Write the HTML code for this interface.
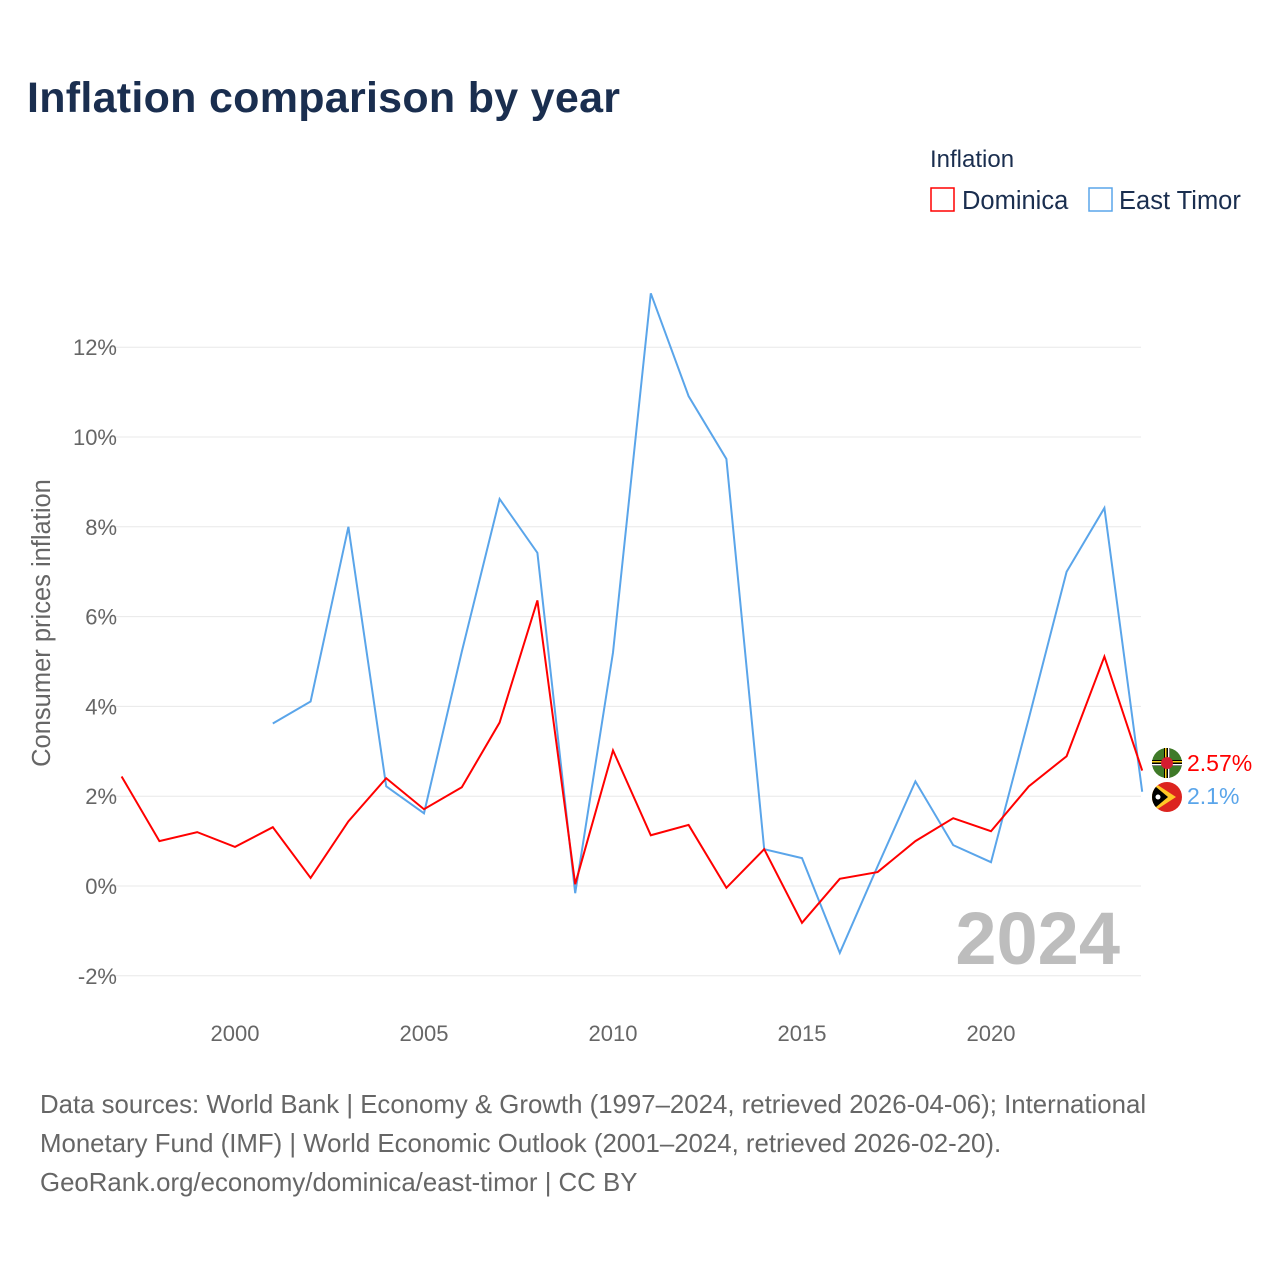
<!DOCTYPE html>
<html><head><meta charset="utf-8"><style>
body{margin:0;background:#fff;font-family:"Liberation Sans",sans-serif;}
svg text{font-family:"Liberation Sans",sans-serif;}
</style></head><body>
<svg id="c" width="1280" height="1280" xmlns="http://www.w3.org/2000/svg">
<rect width="1280" height="1280" fill="#fff"/>
<text x="27" y="112" font-size="43" font-weight="bold" fill="#1a2e4f" textLength="593">Inflation comparison by year</text>
<text x="930" y="167" font-size="24" fill="#1a2e4f">Inflation</text>
<g><rect x="931" y="188" width="23" height="23" fill="none" stroke="#f00" stroke-width="1.5"/><text x="962" y="209" font-size="25.5" fill="#1a2e4f">Dominica</text></g>
<g><rect x="1089" y="188" width="23" height="23" fill="none" stroke="#5aa5ea" stroke-width="1.5"/><text x="1119" y="209" font-size="25.5" fill="#1a2e4f">East Timor</text></g>
<text transform="translate(50,623) rotate(-90)" text-anchor="middle" font-size="25.5" fill="#666">Consumer prices inflation</text>
<g id="grid"></g><g id="xt"></g>
<text x="1120" y="964" text-anchor="end" font-size="74" font-weight="bold" fill="#bdbdbd">2024</text>
<g id="lines"></g>
<g>
<circle cx="1167" cy="763" r="15" fill="#3f7a28"/>
<rect x="1152" y="760" width="30" height="6" fill="#000"/><rect x="1164" y="748" width="6" height="30" fill="#000"/>
<rect x="1152" y="761" width="30" height="1.5" fill="#fcd116"/><rect x="1165" y="748" width="1.5" height="30" fill="#fcd116"/>
<rect x="1152" y="764" width="30" height="1.5" fill="#fff"/><rect x="1168" y="748" width="1.5" height="30" fill="#fff"/>
<circle cx="1167" cy="763" r="6" fill="#d41c30"/></g>
<g>
<clipPath id="cp"><circle cx="1167" cy="797" r="15"/></clipPath>
<g clip-path="url(#cp)"><rect x="1150" y="780" width="34" height="34" fill="#dc241f"/><polygon points="1150,780 1176,797 1150,814" fill="#ffc726"/><polygon points="1150,782 1168,797 1150,812" fill="#000"/><circle cx="1158" cy="797" r="2.5" fill="#fff"/></g></g>
<text x="1187" y="771" font-size="23" fill="#f00">2.57%</text>
<text x="1187" y="804" font-size="23" fill="#5aa5ea">2.1%</text>
<text font-size="25.8" fill="#666"><tspan x="40" y="1113">Data sources: World Bank | Economy &amp; Growth (1997–2024, retrieved 2026-04-06); International</tspan><tspan x="40" y="1152">Monetary Fund (IMF) | World Economic Outlook (2001–2024, retrieved 2026-02-20).</tspan><tspan x="40" y="1191">GeoRank.org/economy/dominica/east-timor | CC BY</tspan></text>
</svg>
<script>
const yTicks=[-2,0,2,4,6,8,10,12];
const xTicks=[2000,2005,2010,2015,2020];
const domYears=[1997,1998,1999,2000,2001,2002,2003,2004,2005,2006,2007,2008,2009,2010,2011,2012,2013,2014,2015,2016,2017,2018,2019,2020,2021,2022,2023,2024];
const domVals=[2.44,1.0,1.2,0.87,1.31,0.18,1.44,2.4,1.71,2.2,3.64,6.36,0.04,3.02,1.13,1.36,-0.04,0.82,-0.82,0.16,0.31,1.0,1.51,1.22,2.22,2.89,5.11,2.57];
const etYears=[2001,2002,2003,2004,2005,2006,2007,2008,2009,2010,2011,2012,2013,2014,2015,2016,2017,2018,2019,2020,2021,2022,2023,2024];
const etVals=[3.62,4.11,8.0,2.22,1.62,5.22,8.62,7.42,-0.16,5.2,13.2,10.91,9.51,0.82,0.62,-1.49,0.44,2.33,0.91,0.53,3.73,7.0,8.42,2.1];
const X=y=>235+(y-2000)*37.8, Y=v=>886-v*44.9;
const NS='http://www.w3.org/2000/svg';
const g=document.getElementById('grid'), xt=document.getElementById('xt'), L=document.getElementById('lines');
yTicks.forEach(t=>{
 const l=document.createElementNS(NS,'line');
 
 
 l.setAttribute('x1',100);l.setAttribute('x2',1141);l.setAttribute('y1',Y(t));l.setAttribute('y2',Y(t));l.setAttribute('stroke','#e8e8e8');g.appendChild(l);
 const tx=document.createElementNS(NS,'text');
 
 
 tx.setAttribute('x',117);tx.setAttribute('y',Y(t)+8);tx.setAttribute('text-anchor','end');tx.setAttribute('font-size','22');tx.setAttribute('fill','#666');tx.textContent=t+'%';g.appendChild(tx);
});
xTicks.forEach(t=>{
 const tx=document.createElementNS(NS,'text');
 
 
 tx.setAttribute('x',X(t));tx.setAttribute('y',1041);tx.setAttribute('text-anchor','middle');tx.setAttribute('font-size','22');tx.setAttribute('fill','#666');tx.textContent=t;xt.appendChild(tx);
});
function line(ys,vs,col,name){
 const p=document.createElementNS(NS,'polyline');
 
 
 p.setAttribute('points',ys.map((y,i)=>X(y)+','+Y(vs[i])).join(' '));
 p.setAttribute('fill','none');p.setAttribute('stroke',col);p.setAttribute('stroke-width','2');L.appendChild(p);
}
line(etYears,etVals,'#5aa5ea','series-east-timor');
line(domYears,domVals,'#f00','series-dominica');
</script>
</body></html>
